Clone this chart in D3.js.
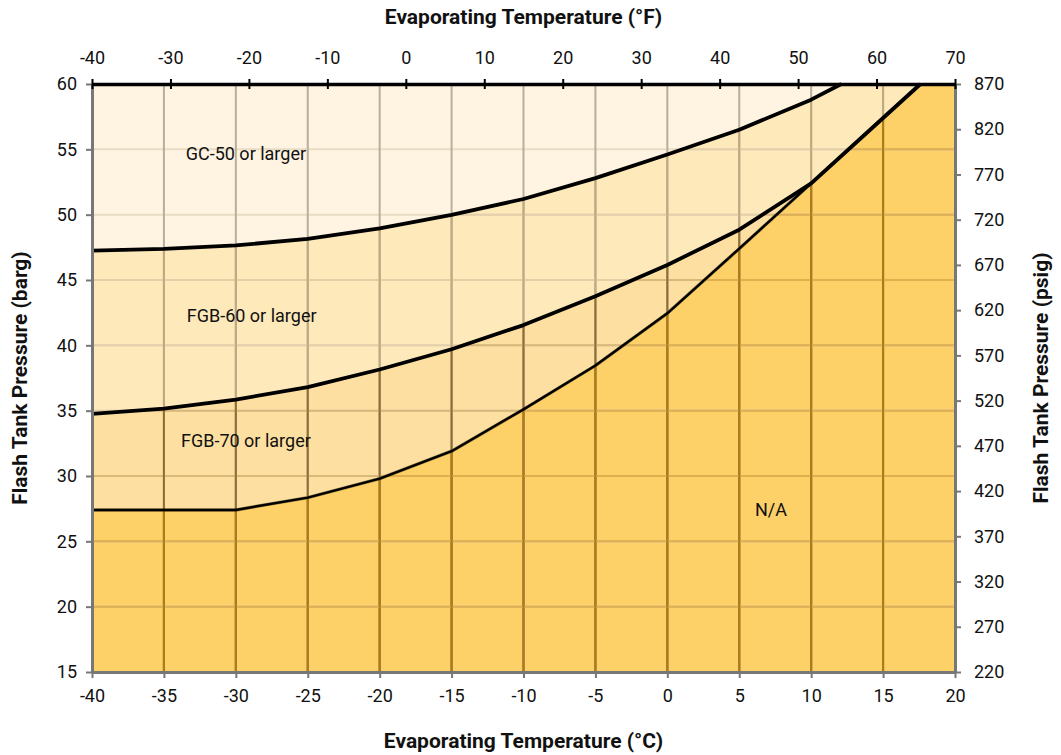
<!DOCTYPE html>
<html>
<head>
<meta charset="utf-8">
<script src="https://cdn.jsdelivr.net/npm/d3@7"></script>
<style>
  body { margin: 0; background: #fff; }
  svg text { font-family: "Roboto", "Liberation Sans", sans-serif; fill: #111; }
</style>
</head>
<body>
<div id="chart"></div>
<script>
// boundary curves (temperature in °C, pressure in barg)
const gc50Temp = [-40, -35, -30, -25, -20, -15, -10, -5, 0, 5, 10, 12.1];
const gc50Pressure = [47.25, 47.38, 47.65, 48.15, 48.95, 49.98, 51.2, 52.8, 54.6, 56.5, 58.8, 60];

const fgb60Temp = [-40, -35, -30, -25, -20, -15, -10, -5, 0, 5, 10, 15, 17.6];
const fgb60Pressure = [34.75, 35.15, 35.85, 36.8, 38.15, 39.7, 41.55, 43.75, 46.15, 48.85, 52.4, 57.4, 60];

const limitTemp = [-40, -35, -30, -25, -20, -15, -10, -5, 0, 5, 10, 15, 17.6];
const limitPressure = [27.4, 27.4, 27.4, 28.35, 29.8, 31.9, 35.1, 38.45, 42.45, 47.4, 52.4, 57.4, 60];

// region labels
const regionLabels = ["GC-50 or larger", "FGB-60 or larger", "FGB-70 or larger", "N/A"];
const labelTemp = [-29.3, -28.9, -29.3, 7.2];
const labelPressure = [54.7, 42.3, 32.7, 27.4];

// ticks
const ticksC = d3.range(-40, 21, 5);
const ticksF = d3.range(-40, 71, 10);
const ticksBarg = d3.range(15, 61, 5);
const ticksPsig = d3.range(220, 871, 50);

const width = 1061, height = 755;
const margin = { top: 84, left: 92, bottom: 83, right: 106 };
const iwidth = width - margin.left - margin.right;
const iheight = height - margin.top - margin.bottom;

const svg = d3.select("#chart").append("svg")
  .attr("width", width).attr("height", height);

const g = svg.append("g").attr("transform", `translate(${margin.left},${margin.top})`);

const x = d3.scaleLinear().domain([-40, 20]).range([0, iwidth]);
const xF = d3.scaleLinear().domain([-40, 70]).range([0, iwidth]);
const y = d3.scaleLinear().domain([15, 60]).range([iheight, 0]);
const yPsig = d3.scaleLinear().domain([220, 870]).range([iheight, 0]);

const pts = (ts, ps) => ts.map((t, i) => [t, ps[i]]);
const gc50 = pts(gc50Temp, gc50Pressure);
const fgb60 = pts(fgb60Temp, fgb60Pressure);
const limit = pts(limitTemp, limitPressure);
const corner = [x.domain()[1], y.domain()[1]];

const area = d3.area().x(d => x(d[0])).y0(iheight).y1(d => y(d[1]));
const line = d3.line().x(d => x(d[0])).y(d => y(d[1]));

// bands: [under-curve, fill, vertical grid colour, horizontal grid colour]
const bands = [
  { pts: null, fill: "#fef4e1", v: "#b9ae9b", h: "#e8dcc4" },
  { pts: gc50, fill: "#fee9bb", v: "#bfa97f", h: "#e4d0a8" },
  { pts: fgb60, fill: "#fde0a1", v: "#8f6f35", h: "#d9b878" },
  { pts: limit, fill: "#fdd068", v: "#b07c14", h: "#e0b050" }
];

const defs = svg.append("defs");
bands.forEach((b, i) => {
  if (!b.pts) {
    g.append("rect").attr("width", iwidth).attr("height", iheight).attr("fill", b.fill);
  } else {
    const d = area(b.pts.concat([corner]));
    g.append("path").attr("d", d).attr("fill", b.fill);
    defs.append("clipPath").attr("id", "band" + i).append("path").attr("d", d);
  }
});

// grid, recoloured inside every band
bands.forEach((b, i) => {
  const gg = g.append("g");
  if (b.pts) gg.attr("clip-path", `url(#band${i})`);
  gg.selectAll(".h").data(ticksBarg.slice(1, -1)).enter().append("line")
    .attr("x1", 0).attr("x2", iwidth)
    .attr("y1", d => y(d)).attr("y2", d => y(d))
    .attr("stroke", b.h).attr("stroke-width", 2);
  gg.selectAll(".v").data(ticksC.slice(1, -1)).enter().append("line")
    .attr("x1", d => x(d)).attr("x2", d => x(d))
    .attr("y1", 0).attr("y2", iheight)
    .attr("stroke", b.v).attr("stroke-width", 2);
});

// boundary lines
g.append("path").attr("d", line(limit)).attr("fill", "none")
  .attr("stroke", "#4a3a10").attr("stroke-width", 3.4).attr("stroke-opacity", 0.5)
  .attr("stroke-linejoin", "round");
g.append("path").attr("d", line(limit)).attr("fill", "none")
  .attr("stroke", "#000").attr("stroke-width", 2.4).attr("stroke-linejoin", "round");
g.append("path").attr("d", line(fgb60)).attr("fill", "none")
  .attr("stroke", "#000").attr("stroke-width", 3.8).attr("stroke-linejoin", "round");
g.append("path").attr("d", line(gc50)).attr("fill", "none")
  .attr("stroke", "#000").attr("stroke-width", 3.8).attr("stroke-linejoin", "round");

// region labels
g.selectAll(".lbl").data(regionLabels).enter().append("text")
  .attr("x", (d, i) => x(labelTemp[i]))
  .attr("y", (d, i) => y(labelPressure[i]))
  .attr("dy", "0.35em")
  .attr("text-anchor", "middle")
  .style("font-size", "18px")
  .text(d => d);

// axes
const fmt = d => String(d);
function styleAxis(sel, col, w) {
  sel.select(".domain").attr("stroke", col).attr("stroke-width", w);
  sel.selectAll(".tick line").attr("stroke", col).attr("stroke-width", 2);
  sel.selectAll(".tick text").style("font-size", "18px").attr("fill", "#111");
}

g.append("g").attr("transform", `translate(0,${iheight})`)
  .call(d3.axisBottom(x).tickValues(ticksC).tickFormat(fmt).tickSize(6).tickPadding(11).tickSizeOuter(0))
  .call(s => styleAxis(s, "#777", 3));

g.append("g")
  .call(d3.axisLeft(y).tickValues(ticksBarg).tickFormat(fmt).tickSize(6).tickPadding(9).tickSizeOuter(0))
  .call(s => styleAxis(s, "#777", 3));

g.append("g").attr("transform", `translate(${iwidth},0)`)
  .call(d3.axisRight(yPsig).tickValues(ticksPsig).tickFormat(fmt).tickSize(6).tickPadding(13).tickSizeOuter(0))
  .call(s => styleAxis(s, "#777", 3));

g.append("g")
  .call(d3.axisTop(xF).tickValues(ticksF).tickFormat(fmt).tickSize(5).tickPadding(15).tickSizeOuter(0))
  .call(s => styleAxis(s, "#000", 3.5))
  .call(s => s.selectAll(".tick line").attr("y1", 5).attr("stroke", "#000"));

// axis titles
const titleStyle = s => s.style("font-size", "21px").style("font-weight", "bold").attr("text-anchor", "middle");

svg.append("text").attr("x", margin.left + iwidth / 2).attr("y", 24)
  .text("Evaporating Temperature (°F)").call(titleStyle);
svg.append("text").attr("x", margin.left + iwidth / 2).attr("y", 748)
  .text("Evaporating Temperature (°C)").call(titleStyle);
svg.append("text")
  .attr("transform", `translate(27,${margin.top + iheight / 2}) rotate(-90)`)
  .text("Flash Tank Pressure (barg)").call(titleStyle);
svg.append("text")
  .attr("transform", `translate(1048,${margin.top + iheight / 2}) rotate(-90)`)
  .text("Flash Tank Pressure (psig)").call(titleStyle);
</script>
</body>
</html>
